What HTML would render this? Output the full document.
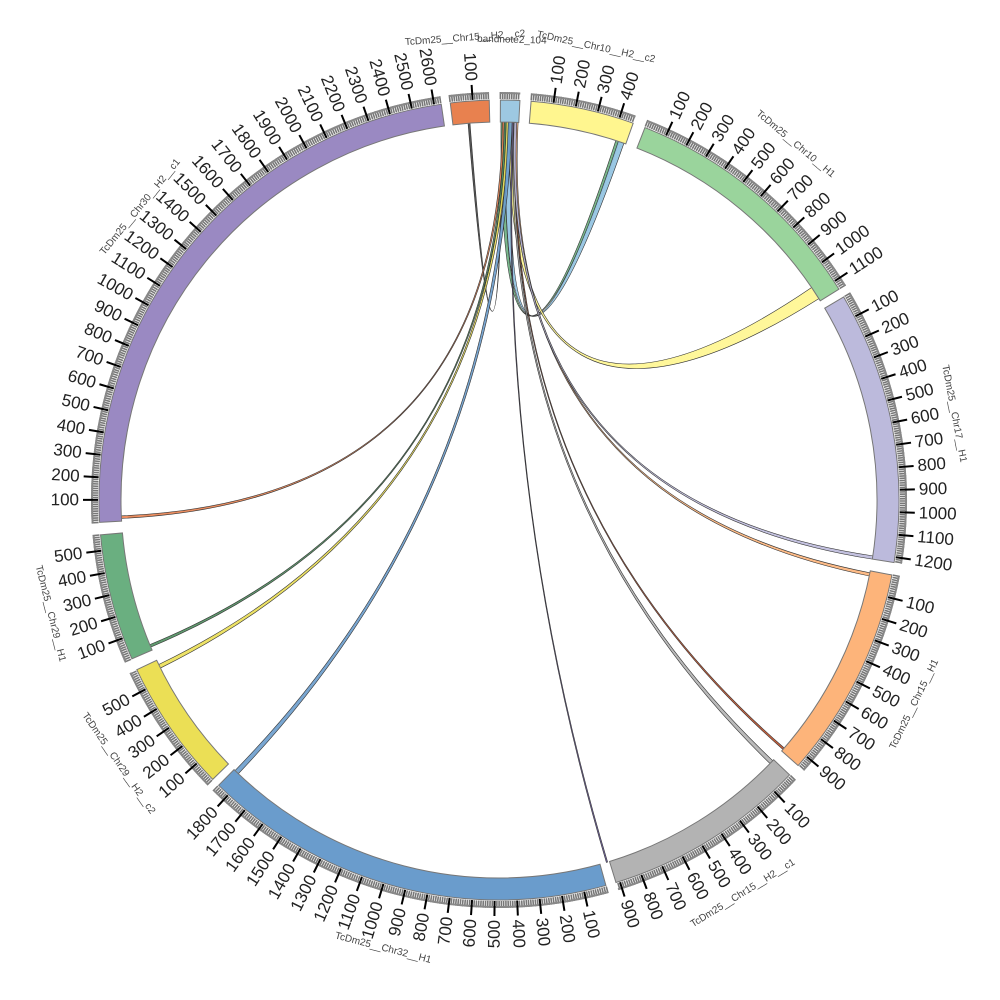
<!DOCTYPE html>
<html><head><meta charset="utf-8"><style>
html,body{margin:0;padding:0;background:#fff;}
svg{display:block;}
</style></head><body>
<svg id="s" width="1000" height="1000" viewBox="0 0 1000 1000" xmlns="http://www.w3.org/2000/svg"></svg>
<script>
const S=document.getElementById('s');
const NS='http://www.w3.org/2000/svg';
const CX=499,CY=500,RI=378,RO=400,U=31;
function pt(a,r){const t=a*Math.PI/180;return [CX+r*Math.sin(t),CY-r*Math.cos(t)];}
function el(tag,attrs,txt){const e=document.createElementNS(NS,tag);for(const k in attrs)e.setAttribute(k,attrs[k]);if(txt!==undefined)e.textContent=txt;S.appendChild(e);return e;}
function arc(a1,a2,r,sweep){const p=pt(a2,r);const large=Math.abs(a2-a1)>180?1:0;return `A${r},${r} 0 ${large} ${sweep} ${p[0].toFixed(2)},${p[1].toFixed(2)}`;}
const segs=[
 ['bandnote2_104',0.2,3.0,'#9dc8e2'],
 ['TcDm25__Chr10__H2__c2',4.6,19.6,'#fff68f'],
 ['TcDm25__Chr10__H1',21.4,58.2,'#9ad49c'],
 ['TcDm25__Chr17__H1',59.5,99,'#bcbadc'],
 ['TcDm25__Chr15__H1',100.8,131.6,'#fdb47a'],
 ['TcDm25__Chr15__H2__c1',133.4,163,'#b3b3b3'],
 ['TcDm25__Chr32__H1',164.5,224.5,'#6a9ccc'],
 ['TcDm25__Chr29__H2__c2',225.7,244.9,'#ebdf55'],
 ['TcDm25__Chr29__H1',246.6,265,'#6aaf80'],
 ['TcDm25__Chr30__H2__c1',266.8,351.7,'#9a89c2'],
 ['TcDm25__Chr15__H2__c2',353,358.6,'#e8814f']
];
const chords=[
 [355.3,355.6,0.4,0.6,'#444'],
 [0.3,1.0,18.0,18.5,'#6aaf80'],
 [1.0,2.0,18.4,19.3,'#8fc1e0'],
 [1.6,2.4,55.8,57.8,'#fff68f'],
 [0.5,0.8,267.2,267.6,'#e8814f'],
 [0.8,1.1,247.1,247.5,'#4f8f5f'],
 [1.1,1.5,243.6,244.2,'#ebdf55'],
 [1.4,2.0,223.6,224.3,'#6a9ccc'],
 [2.0,2.2,163.3,163.5,'#6a5aa0'],
 [2.2,2.5,133.6,134.2,'#b3b3b3'],
 [2.5,2.7,131.0,131.3,'#c0502a'],
 [2.6,2.9,101.1,101.6,'#fdb47a'],
 [2.3,2.7,98.5,99.0,'#bcbadc']
];
for(const c of chords){
 const [a,b,d,e,col]=c;
 const p1=pt(a,RI),p3=pt(d,RI);
 const dd=`M${p1[0]},${p1[1]} ${arc(a,b,RI,1)} Q${CX},${CY} ${p3[0]},${p3[1]} ${arc(d,e,RI,1)} Q${CX},${CY} ${p1[0]},${p1[1]}Z`;
 el('path',{d:dd,fill:col,stroke:'#333','stroke-width':0.6,'fill-opacity':0.9});
}
for(const s of segs){
 const [name,a1,a2,col]=s;
 const o1=pt(a1,RO),i2=pt(a2,RI);
 el('path',{d:`M${o1[0]},${o1[1]} ${arc(a1,a2,RO,1)} L${i2[0]},${i2[1]} ${arc(a2,a1,RI,0)}Z`,fill:col,stroke:'#777','stroke-width':1});
 const len=(a2-a1)*U;
 let mt='';
 for(let v=0;v<=len;v+=10){const a=a1+v/U;const p=pt(a,RO+1),q=pt(a,RO+8);mt+=`M${p[0].toFixed(1)},${p[1].toFixed(1)}L${q[0].toFixed(1)},${q[1].toFixed(1)}`;}
 el('path',{d:mt,stroke:'#777','stroke-width':1.6,fill:'none'});
 let v0=pt(a1,RO+7);
 el('path',{d:`M${v0[0]},${v0[1]} ${arc(a1,a2,RO+7,1)}`,stroke:'#888','stroke-width':2,fill:'none'});
 if(name!=='bandnote2_104'){
 for(let v=100;v<=len;v+=100){
  const a=a1+v/U;const p=pt(a,RO+1),q=pt(a,RO+16);
  el('line',{x1:p[0],y1:p[1],x2:q[0],y2:q[1],stroke:'#000','stroke-width':2});
  const l=pt(a,RO+20);
  const an=((a%360)+360)%360;
  let rot,anc;
  if(an<180){rot=an-90;anc='start';}else{rot=an+90;anc='end';}
  el('text',{x:l[0],y:l[1],transform:`rotate(${rot} ${l[0]} ${l[1]})`,'text-anchor':anc,'dominant-baseline':'central','font-family':'Liberation Sans, sans-serif','font-size':17,fill:'#222'},String(v));
 }}
 const m=(a1+a2)/2;
 const rl=(name==='bandnote2_104')?460:463;
 const lp=pt(m,rl);
 let rot=(m>90&&m<270)?m-180:m;
 el('text',{x:lp[0],y:lp[1],transform:`rotate(${rot} ${lp[0]} ${lp[1]})`,'text-anchor':'middle','dominant-baseline':'central','font-family':'Liberation Sans, sans-serif','font-size':10,fill:'#444'},name);
}
</script>
</body></html>
